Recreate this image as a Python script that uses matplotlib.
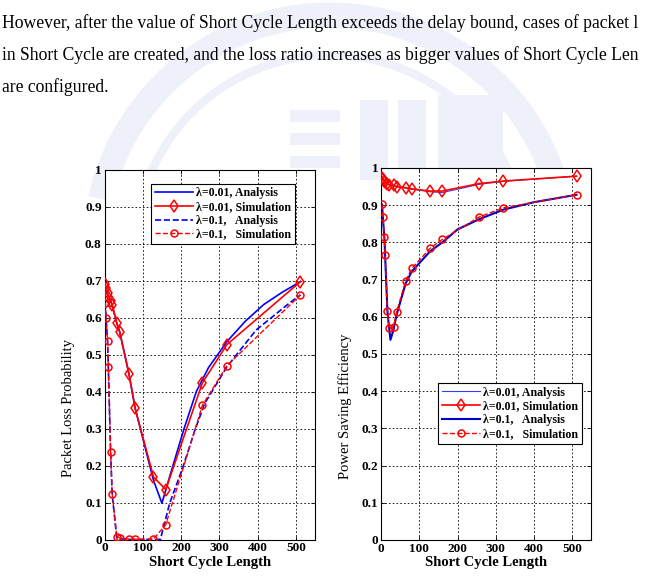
import matplotlib
matplotlib.use("Agg")
import matplotlib.pyplot as plt
import numpy as np

# ---------------- data ----------------
text_lines = [
    "However, after the value of Short Cycle Length exceeds the delay bound, cases of packet l",
    "in Short Cycle are created, and the loss ratio increases as bigger values of Short Cycle Len",
    "are configured.",
]

legend_left = ["\u03bb=0.01, Analysis", "\u03bb=0.01, Simulation",
               "\u03bb=0.1,   Analysis", "\u03bb=0.1,   Simulation"]
legend_right = ["\u03bb=0.01, Analysis", "\u03bb=0.01, Simulation",
                "\u03bb=0.1,   Analysis", "\u03bb=0.1,   Simulation"]

xlabel = "Short Cycle Length"
ylabel_left = "Packet Loss Probability"
ylabel_right = "Power Saving Efficiency"
xticks = [0, 100, 200, 300, 400, 500]
yticks = [0, 0.1, 0.2, 0.3, 0.4, 0.5, 0.6, 0.7, 0.8, 0.9, 1]
ytick_labels = ["0", "0.1", "0.2", "0.3", "0.4", "0.5", "0.6", "0.7", "0.8", "0.9", "1"]

# simulation x values (shared)
sim_x = [2, 4, 8, 10, 16, 20, 32, 40, 64, 80, 128, 160, 256, 320, 512]

# ---- left: packet loss probability ----
loss_sim_001 = [0.69, 0.68, 0.665, 0.655, 0.645, 0.634, 0.585, 0.56, 0.447, 0.355,
                0.169, 0.135, 0.424, 0.527, 0.697]
loss_sim_01 = [0.64, 0.60, 0.536, 0.467, 0.236, 0.124, 0.008, 0.004, 0.001, 0.001,
               0.001, 0.04, 0.363, 0.47, 0.661]

loss_ana_001_x = [2, 4, 8, 10, 16, 20, 32, 40, 64, 80, 128, 150, 176, 208, 240, 272,
                  320, 368, 416, 464, 512]
loss_ana_001 = [0.69, 0.68, 0.665, 0.655, 0.645, 0.634, 0.585, 0.56, 0.447, 0.355,
                0.16, 0.098, 0.19, 0.30, 0.40, 0.465, 0.535, 0.59, 0.635, 0.668, 0.697]

loss_ana_01_x = [2, 4, 8, 10, 16, 20, 32, 40, 64, 80, 128, 146, 170, 205, 236, 262,
                 320, 396, 483, 512]
loss_ana_01 = [0.64, 0.60, 0.536, 0.467, 0.236, 0.124, 0.005, 0.002, 0.0, 0.0,
               0.0, 0.0, 0.097, 0.196, 0.295, 0.368, 0.467, 0.566, 0.639, 0.661]

# ---- right: power saving efficiency ----
eff_sim_001 = [0.972, 0.970, 0.966, 0.962, 0.958, 0.955, 0.953, 0.950, 0.947, 0.944,
               0.938, 0.938, 0.958, 0.965, 0.978]
eff_sim_01 = [0.902, 0.867, 0.815, 0.766, 0.616, 0.569, 0.573, 0.612, 0.697, 0.730,
              0.784, 0.808, 0.868, 0.893, 0.928]

eff_ana_001_x = [2, 4, 8, 10, 16, 20, 32, 40, 64, 80, 128, 160, 200, 256, 320, 512]
eff_ana_001 = [0.972, 0.970, 0.966, 0.962, 0.958, 0.955, 0.953, 0.950, 0.946, 0.943,
               0.936, 0.934, 0.943, 0.956, 0.964, 0.978]

eff_ana_01_x = [2, 4, 8, 10, 16, 20, 24, 32, 40, 64, 80, 128, 160, 200, 256, 320, 400, 512]
eff_ana_01 = [0.902, 0.867, 0.815, 0.766, 0.616, 0.575, 0.538, 0.565, 0.605, 0.69,
              0.722, 0.776, 0.800, 0.835, 0.862, 0.888, 0.908, 0.928]

# ---------------- figure ----------------
W, H = 653, 581
fig = plt.figure(figsize=(W / 100, H / 100), dpi=100)
fig.patch.set_facecolor("white")

serif = ["Liberation Serif", "DejaVu Serif"]

# faint watermark (light blue emblem behind page)
wm = fig.add_axes([0, 0, 1, 1], zorder=-5)
wm.set_xlim(0, W)
wm.set_ylim(H, 0)
wm.axis("off")
wmc = "#eef0fa"
theta = np.linspace(np.pi * 0.93, np.pi * 0.07, 200)
cx, cy = 330, 250
for r, lw in [(235, 18), (195, 6)]:
    wm.plot(cx + r * np.cos(theta), cy - r * np.sin(theta), color=wmc, lw=lw,
            solid_capstyle="butt", zorder=-5)
for (x0, y0, w0, h0) in [(290, 110, 50, 12), (290, 133, 50, 12), (290, 156, 50, 12),
                         (360, 100, 28, 80), (398, 100, 28, 80), (438, 95, 65, 90)]:
    wm.add_patch(plt.Rectangle((x0, y0), w0, h0, color=wmc, lw=0, zorder=-5))

# top paragraph text
for i, line in enumerate(text_lines):
    fig.text(2 / W, 1 - (28 + 32 * i) / H, line, family=serif, fontsize=12.7,
             ha="left", va="baseline", color="black")

ax1 = fig.add_axes([104.5 / W, 1 - 539.5 / H, 210.5 / W, 370 / H])
ax2 = fig.add_axes([381.3 / W, 1 - 540 / H, 209.7 / W, 372 / H])

red = "#ff0000"
blue = "#0000ff"

# left plot
l1, = ax1.plot(loss_ana_001_x, loss_ana_001, "-", color=blue, lw=1.2, zorder=3)
l2, = ax1.plot(sim_x, loss_sim_001, "-", color=red, lw=1.2, marker="d", ms=6,
               mfc="none", mec=red, mew=1.1, zorder=4)
l3, = ax1.plot(loss_ana_01_x, loss_ana_01, "--", color=blue, lw=1.2, zorder=3)
l4, = ax1.plot(sim_x, loss_sim_01, "--", color=red, lw=1.0, marker="o", ms=5,
               mfc="none", mec=red, mew=1.1, zorder=4)

# right plot
r1, = ax2.plot(eff_ana_001_x, eff_ana_001, "-", color="#3a3aff", lw=0.8, zorder=3)
r2, = ax2.plot(sim_x, eff_sim_001, "-", color=red, lw=1.2, marker="d", ms=6,
               mfc="none", mec=red, mew=1.1, zorder=4)
r3, = ax2.plot(eff_ana_01_x, eff_ana_01, "-", color="#0000cc", lw=1.5, zorder=3)
r4, = ax2.plot(sim_x, eff_sim_01, "--", color=red, lw=1.0, marker="o", ms=5,
               mfc="none", mec=red, mew=1.1, zorder=4)

for ax, yl, ly in [(ax1, ylabel_left, 0.355), (ax2, ylabel_right, 0.36)]:
    ax.set_xlim(0, 550)
    ax.set_ylim(0, 1)
    ax.set_xticks(xticks)
    ax.set_xticklabels([str(t) for t in xticks], family=serif, fontweight="bold",
                       fontsize=9.5)
    ax.set_yticks(yticks)
    ax.set_yticklabels(ytick_labels, family=serif, fontweight="bold", fontsize=9.5)
    ax.tick_params(direction="in", length=3, width=0.6, pad=2, top=True, right=True)
    ax.grid(True, linestyle=(0, (2, 2.5)), color="black", lw=0.6)
    ax.set_axisbelow(True)
    for s in ax.spines.values():
        s.set_linewidth(0.8)
        s.set_color("black")
    ax.set_xlabel(xlabel, family=serif, fontweight="bold", fontsize=10.5, labelpad=1)
    ax.set_ylabel(yl, family=serif, fontsize=10.5)
    ax.yaxis.set_label_coords(-0.14, ly)

leg1 = ax1.legend([l1, l2, l3, l4], legend_left, loc="upper right",
                  bbox_to_anchor=(0.905, 0.962), prop={"family": serif, "weight": "bold", "size": 8.6},
                  fancybox=False, framealpha=1, edgecolor="black", handlelength=3.2,
                  handletextpad=0.3, borderpad=0.3, labelspacing=0.15, borderaxespad=0)
leg1.get_frame().set_linewidth(0.8)

leg2 = ax2.legend([r1, r2, r3, r4], legend_right, loc="upper right",
                  bbox_to_anchor=(0.957, 0.422), prop={"family": serif, "weight": "bold", "size": 8.6},
                  fancybox=False, framealpha=1, edgecolor="black", handlelength=3.2,
                  handletextpad=0.3, borderpad=0.3, labelspacing=0.15, borderaxespad=0)
leg2.get_frame().set_linewidth(0.8)

fig.savefig("out.png", dpi=100)
